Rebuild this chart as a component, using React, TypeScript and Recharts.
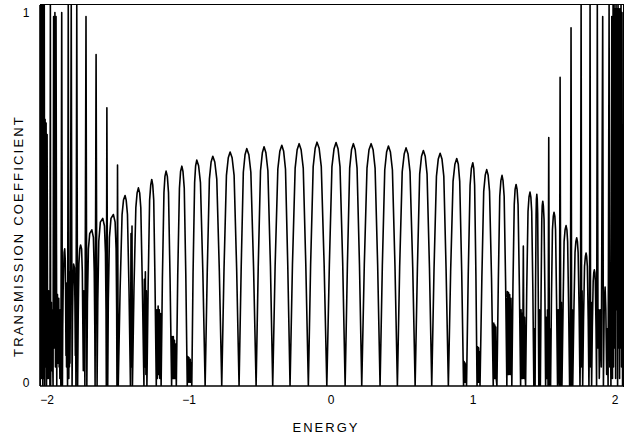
import React from "react";
import { LineChart, Line, XAxis, YAxis } from "recharts";

// Energy (E) and transmission coefficient (T), left to right.
const leftEdge: [number, number][] = [
  [-2.048, 0], [-2.046, 1], [-2.044, 0.02], [-2.042, 1], [-2.04, 0.02], [-2.039, 1], [-2.036, 0.05], [-2.034, 1],
  [-2.033, 1], [-2.03, 0], [-2.028, 1], [-2.027, 0.98], [-2.025, 0.02], [-2.023, 1], [-2.02, 1], [-2.017, 0],
  [-2.014, 0.7], [-2.011, 0.05], [-2.007, 0.69],
  [-2.004, 0], [-2.0, 0.66], [-1.996, 0.02], [-1.993, 0.12], [-1.991, 0.02], [-1.989, 0.25], [-1.987, 0.03],
  [-1.985, 0.2], [-1.98, 0], [-1.977, 1], [-1.975, 0], [-1.972, 0.15], [-1.97, 0.22], [-1.968, 0.04],
  [-1.966, 0.2], [-1.962, 0.18], [-1.96, 0.05], [-1.958, 0], [-1.954, 0.97], [-1.949, 0.1], [-1.945, 0.98],
  [-1.941, 0.05], [-1.937, 0.97], [-1.932, 0], [-1.93, 0.18], [-1.927, 0.24], [-1.925, 0.06], [-1.923, 0.22],
  [-1.92, 0.08], [-1.918, 0.23], [-1.915, 0.05], [-1.913, 0.2], [-1.91, 0.02], [-1.908, 0.2], [-1.905, 0.06],
  [-1.903, 0], [-1.897, 0.98], [-1.892, 0], [-1.89, 0.15], [-1.887, 0.25], [-1.884, 0.3], [-1.88, 0.35],
  [-1.876, 0.36], [-1.872, 0.33], [-1.87, 0.25], [-1.867, 0.08], [-1.865, 0.2], [-1.863, 0.05],
  [-1.861, 0.27], [-1.858, 0.1], [-1.856, 0], [-1.851, 1], [-1.847, 0.02], [-1.845, 0.2], [-1.843, 0.05],
  [-1.841, 0.3], [-1.839, 0.06], [-1.837, 0.18], [-1.83, 1], [-1.824, 0], [-1.821, 0.18], [-1.818, 0.26],
  [-1.813, 0.32], [-1.807, 0.31], [-1.804, 0.22], [-1.801, 0.08], [-1.799, 0.18], [-1.797, 0], [-1.791, 1],
  [-1.785, 0], [-1.781, 0.18], [-1.776, 0.32], [-1.77, 0.36], [-1.764, 0.37], [-1.757, 0.36], [-1.752, 0.3],
  [-1.748, 0.15], [-1.745, 0.04], [-1.741, 0.25], [-1.738, 0.05], [-1.736, 0.2], [-1.734, 0], [-1.726, 0.97],
  [-1.72, 0], [-1.716, 0.22], [-1.709, 0.36], [-1.7, 0.4], [-1.685, 0.41], [-1.674, 0.39], [-1.668, 0.3],
  [-1.664, 0.15], [-1.662, 0], [-1.655, 0.87], [-1.648, 0],
  [-1.643, 0.22], [-1.636, 0.38], [-1.625, 0.43], [-1.608, 0.44], [-1.596, 0.42], [-1.589, 0.35],
  [-1.585, 0.2], [-1.583, 0], [-1.579, 0.73], [-1.573, 0],
  [-1.569, 0.22], [-1.561, 0.39], [-1.55, 0.44], [-1.533, 0.45], [-1.521, 0.43], [-1.514, 0.36],
  [-1.51, 0.2], [-1.508, 0], [-1.504, 0.58], [-1.499, 0],
  [-1.486, 0.25], [-1.472, 0.45], [-1.462, 0.488], [-1.451, 0.5], [-1.443, 0.488], [-1.434, 0.45], [-1.423, 0.25], [-1.413, 0],
  [-1.409, 0.4], [-1.406, 0.05], [-1.402, 0.42], [-1.399, 0],
  [-1.388, 0.26], [-1.375, 0.468], [-1.366, 0.507], [-1.357, 0.52], [-1.348, 0.507], [-1.34, 0.468], [-1.329, 0.26], [-1.318, 0],
  [-1.315, 0.28], [-1.311, 0.05], [-1.308, 0.3], [-1.304, 0.03], [-1.301, 0.25], [-1.297, 0],
  [-1.288, 0.271], [-1.278, 0.488], [-1.27, 0.528], [-1.263, 0.542], [-1.256, 0.528], [-1.249, 0.488], [-1.24, 0.271], [-1.231, 0],
  [-1.227, 0.2], [-1.223, 0.02], [-1.218, 0.21], [-1.214, 0.03], [-1.21, 0.2], [-1.206, 0.02], [-1.201, 0.19], [-1.197, 0],
  [-1.188, 0.282], [-1.177, 0.508], [-1.17, 0.55], [-1.162, 0.564], [-1.153, 0.55], [-1.145, 0.508], [-1.134, 0.282], [-1.123, 0],
  [-1.12, 0.13], [-1.115, 0.02], [-1.111, 0.13], [-1.107, 0.02], [-1.103, 0.12], [-1.099, 0.02], [-1.094, 0.11], [-1.09, 0],
  [-1.08, 0.289], [-1.068, 0.519], [-1.06, 0.563], [-1.051, 0.577], [-1.043, 0.563], [-1.034, 0.519], [-1.023, 0.289], [-1.013, 0],
  [-1.009, 0.077], [-1.005, 0.01], [-1.001, 0.075], [-0.996, 0.01], [-0.992, 0.07], [-0.988, 0.01], [-0.985, 0.06], [-0.981, 0],
  [-0.972, 0.297], [-0.961, 0.534], [-0.954, 0.578], [-0.946, 0.593], [-0.933, 0.578], [-0.92, 0.534], [-0.903, 0.297], [-0.887, 0],
];

const centerBand: [number, number][] = [
  [-0.872, 0.302], [-0.857, 0.543], [-0.845, 0.588], [-0.833, 0.603], [-0.819, 0.588], [-0.805, 0.543], [-0.787, 0.302], [-0.77, 0],
  [-0.754, 0.307], [-0.737, 0.553], [-0.724, 0.599], [-0.711, 0.614], [-0.697, 0.599], [-0.683, 0.553], [-0.665, 0.307], [-0.648, 0],
  [-0.633, 0.312], [-0.618, 0.561], [-0.606, 0.607], [-0.594, 0.623], [-0.579, 0.607], [-0.565, 0.561], [-0.546, 0.312], [-0.528, 0],
  [-0.513, 0.314], [-0.497, 0.565], [-0.484, 0.612], [-0.472, 0.628], [-0.459, 0.612], [-0.445, 0.565], [-0.427, 0.314], [-0.411, 0],
  [-0.394, 0.316], [-0.375, 0.569], [-0.361, 0.616], [-0.347, 0.632], [-0.334, 0.616], [-0.321, 0.569], [-0.305, 0.316], [-0.289, 0],
  [-0.272, 0.318], [-0.253, 0.572], [-0.239, 0.62], [-0.225, 0.636], [-0.211, 0.62], [-0.196, 0.572], [-0.178, 0.318], [-0.16, 0],
  [-0.144, 0.32], [-0.126, 0.576], [-0.112, 0.624], [-0.099, 0.64], [-0.084, 0.624], [-0.069, 0.576], [-0.049, 0.32], [-0.03, 0],
  [-0.012, 0.32], [0.006, 0.575], [0.021, 0.623], [0.035, 0.639], [0.049, 0.623], [0.063, 0.575], [0.082, 0.32], [0.099, 0],
  [0.115, 0.318], [0.131, 0.572], [0.144, 0.62], [0.157, 0.636], [0.17, 0.62], [0.183, 0.572], [0.2, 0.318], [0.216, 0],
  [0.234, 0.318], [0.253, 0.572], [0.267, 0.62], [0.282, 0.636], [0.296, 0.62], [0.31, 0.572], [0.328, 0.318], [0.345, 0],
  [0.361, 0.315], [0.378, 0.567], [0.391, 0.614], [0.404, 0.63], [0.418, 0.614], [0.432, 0.567], [0.45, 0.315], [0.467, 0],
  [0.483, 0.312], [0.501, 0.562], [0.515, 0.609], [0.528, 0.625], [0.542, 0.609], [0.556, 0.562], [0.575, 0.312], [0.592, 0],
  [0.608, 0.309], [0.624, 0.556], [0.637, 0.603], [0.65, 0.618], [0.663, 0.603], [0.676, 0.556], [0.693, 0.309], [0.709, 0],
  [0.725, 0.306], [0.742, 0.55], [0.755, 0.596], [0.768, 0.611], [0.781, 0.596], [0.794, 0.55], [0.81, 0.306], [0.826, 0],
  [0.842, 0.3], [0.859, 0.537], [0.872, 0.582], [0.885, 0.597], [0.896, 0.582], [0.906, 0.537], [0.92, 0.3], [0.933, 0],
];

const rightEdge: [number, number][] = [
  [0.937, 0.064], [0.94, 0.01], [0.944, 0.06], [0.947, 0.01], [0.951, 0.055], [0.954, 0],
  [0.966, 0.293], [0.979, 0.527], [0.988, 0.571], [0.998, 0.586], [1.005, 0.571], [1.011, 0.527], [1.02, 0.293], [1.028, 0],
  [1.032, 0.103], [1.035, 0.01], [1.039, 0.1], [1.042, 0.01], [1.046, 0.09], [1.049, 0],
  [1.062, 0.284], [1.075, 0.511], [1.086, 0.554], [1.096, 0.568], [1.106, 0.554], [1.116, 0.511], [1.13, 0.284], [1.142, 0],
  [1.146, 0.165], [1.149, 0.02], [1.153, 0.16], [1.156, 0.02], [1.16, 0.155], [1.163, 0.02], [1.168, 0],
  [1.178, 0.277], [1.188, 0.498], [1.196, 0.539], [1.204, 0.553], [1.211, 0.539], [1.219, 0.498], [1.229, 0.277], [1.238, 0],
  [1.242, 0.248], [1.246, 0.03], [1.25, 0.245], [1.254, 0.03], [1.258, 0.24], [1.263, 0.03], [1.267, 0.23], [1.273, 0],
  [1.281, 0.265], [1.29, 0.476], [1.296, 0.516], [1.303, 0.529], [1.31, 0.516], [1.317, 0.476], [1.326, 0.265], [1.335, 0],
  [1.338, 0.2], [1.342, 0.02], [1.345, 0.19], [1.349, 0.02], [1.354, 0.367], [1.359, 0.02], [1.363, 0.18], [1.367, 0.03], [1.37, 0],
  [1.378, 0.255], [1.387, 0.458], [1.394, 0.496], [1.401, 0.509], [1.407, 0.496], [1.413, 0.458], [1.421, 0.255], [1.428, 0],
  [1.432, 0.15], [1.437, 0],
  [1.44, 0.25], [1.444, 0.453], [1.446, 0.49], [1.449, 0.503], [1.452, 0.49], [1.455, 0.453], [1.459, 0.25], [1.463, 0],
  [1.467, 0.2], [1.47, 0.02], [1.474, 0],
  [1.479, 0.243], [1.484, 0.437], [1.487, 0.473], [1.491, 0.485], [1.495, 0.473], [1.5, 0.437], [1.506, 0.243], [1.511, 0],
  [1.515, 0.18], [1.52, 0.02], [1.524, 0.2], [1.528, 0], [1.533, 0.652], [1.538, 0], [1.542, 0.15], [1.546, 0],
  [1.552, 0.228], [1.559, 0.41], [1.565, 0.445], [1.57, 0.456], [1.576, 0.445], [1.581, 0.41], [1.588, 0.228], [1.595, 0],
  [1.599, 0.2], [1.604, 0.02], [1.608, 0], [1.613, 0.81], [1.618, 0], [1.622, 0.22], [1.626, 0],
  [1.634, 0.21], [1.641, 0.379], [1.648, 0.41], [1.655, 0.421], [1.661, 0.41], [1.666, 0.379], [1.673, 0.21], [1.68, 0],
  [1.685, 0], [1.69, 0.94], [1.695, 0], [1.699, 0.2], [1.702, 0],
  [1.71, 0.195], [1.718, 0.35], [1.724, 0.379], [1.73, 0.389], [1.735, 0.379], [1.74, 0.35], [1.747, 0.195], [1.753, 0],
  [1.756, 0.1], [1.761, 1], [1.765, 0.05], [1.768, 0.25], [1.772, 0],
  [1.778, 0.175], [1.785, 0.314], [1.791, 0.34], [1.796, 0.349], [1.8, 0.34], [1.805, 0.314], [1.811, 0.175], [1.816, 0],
  [1.82, 0.15], [1.824, 1], [1.828, 0.05], [1.832, 0.22], [1.835, 0],
  [1.84, 0.153], [1.846, 0.275], [1.85, 0.297], [1.854, 0.305], [1.858, 0.297], [1.861, 0.275], [1.866, 0.153], [1.87, 0],
  [1.875, 1], [1.88, 0.1], [1.885, 0.2], [1.889, 0.02], [1.896, 0.2], [1.903, 0.05], [1.913, 0.97],
  [1.918, 0], [1.924, 0.22], [1.93, 0.26], [1.935, 0.2], [1.941, 0.03], [1.946, 0.15], [1.951, 0],
  [1.958, 1], [1.963, 0.05], [1.967, 0.2], [1.971, 0], [1.977, 0.97], [1.982, 0.02],
  [1.986, 1], [1.989, 0.05], [1.993, 1], [1.996, 0.1], [2.0, 0.99], [2.004, 0.02], [2.007, 1],
  [2.011, 0.2], [2.014, 0.99], [2.018, 0], [2.021, 1], [2.025, 0.1], [2.028, 0.99], [2.032, 0.02],
  [2.035, 0.99], [2.039, 0.1], [2.042, 1], [2.046, 0.05], [2.049, 0.98], [2.053, 0], [2.056, 0.5], [2.06, 0],
];

const xTicks = [-2, -1, 0, 1, 2];
const yTicks = [0, 1];
const xDomain: [number, number] = [-2.05, 2.063];
const yDomain: [number, number] = [0, 1];
const xTitle = "ENERGY";
const yTitle = "TRANSMISSION COEFFICIENT";

const data = [...leftEdge, ...centerBand, ...rightEdge].map(([e, t]) => ({ e, t }));

const FONT = "'Liberation Sans', Arial, sans-serif";

const fmtX = (v: number) => (v < 0 ? "\u2212" + Math.abs(v) : String(v));

const YTick = (props: any) => {
  const { y, payload } = props;
  const off = payload.value === 1 ? 3.3 : -3.5;
  return (
    <text x={29.5} y={y + off} dy="0.35em" textAnchor="end" fontSize={12} fontFamily={FONT} fill="#000">
      {payload.value}
    </text>
  );
};

export default function App() {
  return (
    <div style={{ position: "absolute", left: 0, top: 0, width: 632, height: 440, background: "#fff" }}>
      <LineChart width={632} height={440} data={data} margin={{ top: 5, right: 8, left: 0, bottom: 0 }}>
        <XAxis
          dataKey="e"
          type="number"
          domain={xDomain}
          ticks={xTicks}
          tickFormatter={fmtX}
          allowDataOverflow
          height={54}
          tickLine={false}
          tickSize={0}
          tickMargin={9}
          axisLine={{ stroke: "#000", strokeWidth: 1.6 }}
          tick={{ fill: "#000", fontSize: 12, fontFamily: FONT }}
          label={{
            value: xTitle,
            content: () => (
              <text x={326} y={427.5} dy="0.35em" textAnchor="middle" fontSize={13} letterSpacing={2} fontFamily={FONT} fill="#000">
                {xTitle}
              </text>
            ),
          }}
        />
        <YAxis
          type="number"
          domain={yDomain}
          ticks={yTicks}
          width={40}
          allowDataOverflow
          tickLine={false}
          axisLine={{ stroke: "#000", strokeWidth: 1.6 }}
          tick={<YTick />}
          label={{
            value: yTitle,
            content: () => (
              <text
                x={18.5}
                y={236}
                dy="0.35em"
                transform="rotate(-90 18.5 236)"
                textAnchor="middle"
                fontSize={13}
                letterSpacing={2.2}
                fontFamily={FONT}
                fill="#000"
              >
                {yTitle}
              </text>
            ),
          }}
        />
        <Line
          type="linear"
          dataKey="t"
          stroke="#000"
          strokeWidth={1.6}
          dot={false}
          isAnimationActive={false}
          strokeLinejoin="round"
        />
      </LineChart>
      <div
        style={{
          position: "absolute",
          left: 40,
          top: 4,
          width: 583,
          height: 382,
          borderTop: "1.5px solid #000",
          borderRight: "1.5px solid #000",
          pointerEvents: "none",
        }}
      />
    </div>
  );
}
